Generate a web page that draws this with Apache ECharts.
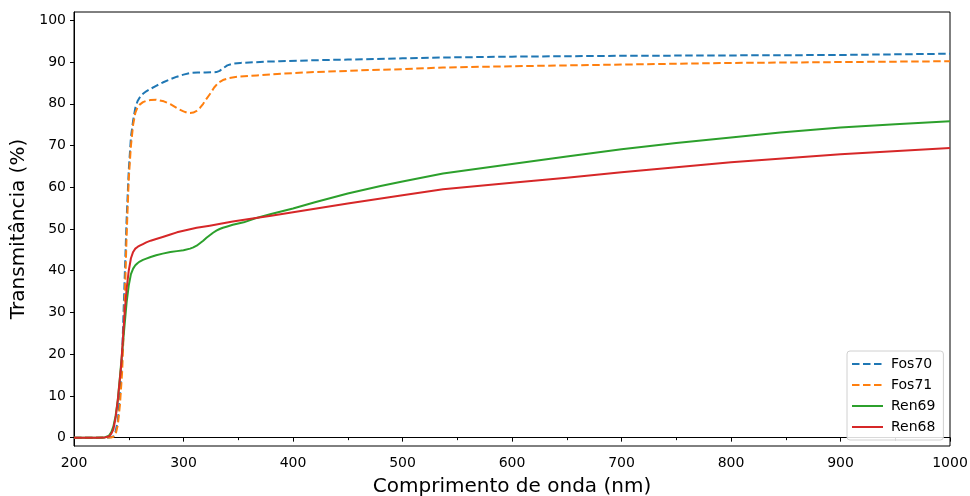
<!DOCTYPE html>
<html>
<head>
<meta charset="utf-8">
<script src="https://cdn.jsdelivr.net/npm/echarts@6/dist/echarts.min.js"></script>
<style>
  html, body { margin: 0; padding: 0; background: #fff; }
  #chart { width: 970px; height: 496px; }
</style>
</head>
<body>
<div id="chart"></div>
<script>
// Transmittance spectra (%), wavelength in nm
const fos70Wl = [200, 220, 232, 236, 238, 240, 242, 244, 246, 248, 250, 252, 254, 256, 258, 260, 263, 266, 270, 275, 281, 288, 294, 300, 306, 313, 320, 330, 333, 336, 340, 345, 352, 360, 375, 388, 420, 450, 500, 537, 600, 650, 700, 800, 900, 1000];
const fos70T  = [0, 0, 0.05, 0.3, 1.5, 4, 10, 20, 36, 52, 64, 72, 76, 79, 80.6, 81.5, 82.4, 83, 83.6, 84.3, 85.1, 85.9, 86.5, 87, 87.4, 87.5, 87.5, 87.6, 87.9, 88.5, 89.2, 89.6, 89.8, 89.9, 90.1, 90.2, 90.45, 90.6, 90.9, 91.1, 91.3, 91.4, 91.5, 91.6, 91.7, 92.0];

const fos71Wl = [200, 220, 234, 236, 238, 240, 242, 244, 246, 248, 250, 252, 254, 256, 258, 260, 263, 266, 270, 275, 282, 288, 295, 300, 303, 306, 309, 312, 315, 318, 321, 324, 328, 332, 336, 342, 350, 367, 390, 409, 440, 470, 500, 537, 600, 700, 800, 900, 1000];
const fos71T  = [0, 0, 0.05, 0.2, 0.8, 3, 8, 16, 30, 48, 62, 70, 75, 77.8, 79.1, 79.8, 80.4, 80.7, 80.9, 81, 80.6, 79.9, 78.8, 78.2, 77.9, 77.8, 77.9, 78.3, 79.0, 80, 81.2, 82.3, 83.9, 85.1, 85.7, 86.2, 86.5, 86.8, 87.2, 87.5, 87.8, 88.1, 88.3, 88.7, 89.0, 89.4, 89.8, 90.0, 90.2];

const ren69Wl = [200, 220, 228, 232, 234, 236, 238, 240, 242, 245, 248, 250, 252, 254, 256, 258, 260, 263, 266, 270, 275, 281, 288, 294, 300, 306, 309, 312, 315, 318, 321, 324, 327, 330, 333, 336, 340, 345, 355, 365, 380, 400, 420, 450, 480, 500, 537, 600, 650, 700, 750, 800, 845, 900, 950, 1000];
const ren69T  = [0, 0, 0.05, 0.5, 1.3, 2.7, 5.2, 9, 14.7, 23.5, 32.3, 36.5, 39.2, 40.5, 41.3, 41.8, 42.2, 42.6, 42.9, 43.3, 43.7, 44.1, 44.5, 44.7, 44.9, 45.3, 45.6, 46.0, 46.6, 47.2, 47.9, 48.5, 49.1, 49.6, 50.0, 50.3, 50.6, 51.0, 51.6, 52.5, 53.6, 54.9, 56.4, 58.5, 60.3, 61.4, 63.3, 65.6, 67.4, 69.1, 70.6, 71.9, 73.1, 74.3, 75.1, 75.8];

const ren68Wl = [200, 220, 228, 232, 234, 236, 238, 240, 243, 246, 248, 250, 252, 254, 256, 258, 260, 263, 266, 270, 275, 281, 288, 294, 300, 312, 324, 335, 345, 360, 380, 400, 450, 500, 537, 600, 650, 700, 750, 800, 900, 1000];
const ren68T  = [0, 0, 0.05, 0.3, 0.9, 2, 4.8, 9, 17, 29, 35.5, 40, 43, 44.5, 45.3, 45.7, 46, 46.4, 46.8, 47.2, 47.6, 48.1, 48.7, 49.2, 49.6, 50.3, 50.8, 51.3, 51.8, 52.4, 53.2, 54.0, 56.1, 58.1, 59.5, 61.1, 62.3, 63.6, 64.8, 66.0, 67.9, 69.4];

const yTickValues = [0, 10, 20, 30, 40, 50, 60, 70, 80, 90, 100];

const pairs = (xs, ys) => xs.map((x, i) => [x, ys[i]]);
const FONT = 'DejaVu Sans';

function lineSeries(name, xs, ys, color, dashed) {
  return {
    name: name,
    type: 'line',
    data: pairs(xs, ys),
    showSymbol: false,
    symbol: 'none',
    smooth: false,
    color: color,
    lineStyle: { color: color, width: 2, type: dashed ? [7.5, 3.5] : 'solid', join: 'round' },
    emphasis: { disabled: true }
  };
}

const chart = echarts.init(document.getElementById('chart'), null, { renderer: 'canvas' });
chart.setOption({
  animation: false,
  backgroundColor: '#fff',
  textStyle: { fontFamily: FONT },
  grid: {
    left: 74, right: 20, top: 12, bottom: 50,
    outerBoundsMode: 'none',
    containLabel: false,
    show: true, borderColor: '#000', borderWidth: 1, backgroundColor: 'transparent'
  },
  legend: {
    orient: 'vertical',
    left: 847, top: 351,
    padding: [6, 8, 6, 4],
    itemGap: 7,
    itemWidth: 31,
    itemHeight: 13,
    borderColor: '#d0d0d0',
    borderWidth: 1,
    borderRadius: 3,
    backgroundColor: 'rgba(255,255,255,0.85)',
    itemStyle: { opacity: 0, borderWidth: 0 },
    textStyle: { fontFamily: FONT, fontSize: 14, color: '#000', padding: [0, 0, 0, 3] },
    data: ['Fos70', 'Fos71', 'Ren69', 'Ren68']
  },
  xAxis: {
    type: 'value',
    min: 200, max: 1000, interval: 100,
    name: 'Comprimento de onda (nm)',
    nameLocation: 'middle',
    nameGap: 31,
    nameTextStyle: { fontFamily: FONT, fontSize: 20, color: '#000' },
    axisLine: { show: true, lineStyle: { color: '#000', width: 1 } },
    axisTick: { show: true, inside: false, length: 4, lineStyle: { color: '#000' } },
    minorTick: { show: true, splitNumber: 2, length: 2.5, lineStyle: { color: '#000' } },
    axisLabel: { fontFamily: FONT, fontSize: 14, color: '#000', margin: 10, formatter: v => String(v) },
    splitLine: { show: false }
  },
  yAxis: {
    type: 'value',
    min: -2, max: 102,
    name: 'Transmitância (%)',
    nameLocation: 'middle',
    nameGap: 36,
    nameTextStyle: { fontFamily: FONT, fontSize: 20, color: '#000' },
    axisLine: { show: true, lineStyle: { color: '#000', width: 1 } },
    axisTick: { show: true, inside: false, length: 4, customValues: yTickValues, lineStyle: { color: '#000' } },
    axisLabel: { fontFamily: FONT, fontSize: 14, color: '#000', margin: 8, customValues: yTickValues, formatter: v => String(v) },
    splitLine: { show: false }
  },
  series: [
    lineSeries('Fos70', fos70Wl, fos70T, '#1f77b4', true),
    lineSeries('Fos71', fos71Wl, fos71T, '#ff7f0e', true),
    lineSeries('Ren69', ren69Wl, ren69T, '#2ca02c', false),
    lineSeries('Ren68', ren68Wl, ren68T, '#d62728', false)
  ]
});
</script>
</body>
</html>
